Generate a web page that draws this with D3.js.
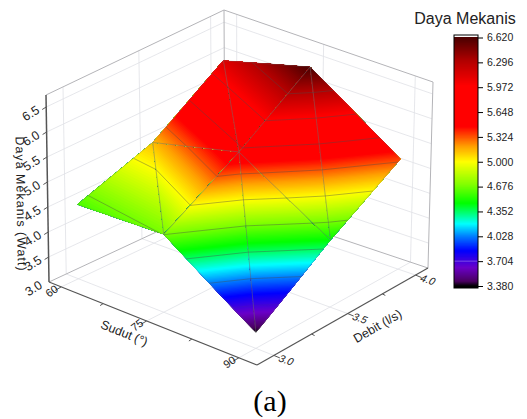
<!DOCTYPE html>
<html lang="en">
<head>
<meta charset="UTF-8">
<script src="https://d3js.org/d3.v7.min.js"></script>
<style>
  html, body { margin: 0; padding: 0; background: #fff; }
  svg { display: block; }
  text { font-family: "Liberation Sans", Arial, sans-serif; fill: #222; }
</style>
</head>
<body>
<svg width="527" height="419"></svg>
<script>

// data
var sudut = [60, 75, 90];
var debit = [3.0, 3.5, 4.0];
// daya[i][j] = sudut i, debit j
var daya = [
  [4.60, 5.14, 6.13],
  [4.68, 5.60, 6.62],
  [3.38, 4.46, 5.36]
];
var zTicks = [3.0, 3.5, 4.0, 4.5, 5.0, 5.5, 6.0, 6.5];
var sudutTicks = [60, 75, 90];
var sudutMinor = [67.5, 82.5];
var debitTicks = [3.0, 3.5, 4.0];
var debitMinor = [3.25, 3.75];
var levels = [3.704, 4.028, 4.352, 4.676, 5.000, 5.324, 5.648, 5.972, 6.296];
var barTicks = [3.380, 3.704, 4.028, 4.352, 4.676, 5.000, 5.324, 5.648, 5.972, 6.296, 6.620];
var colorValues = [3.38, 3.44, 3.62, 3.84, 4.03, 4.19, 4.32, 4.46, 4.70, 5.00, 5.20, 5.46, 5.99, 6.32, 6.62];
var colorNames = ["#000000", "#4a0060", "#6a00c8", "#0000ff", "#0080ff", "#00ffff", "#00ff80", "#00ff00", "#80ff00", "#ffff00", "#ffa000", "#ff0000", "#ff0000", "#b00000", "#4a0000"];

var svg = d3.select("svg");

// box corners on screen, u = sudut side, v = debit side
function homography(p0, p1, p2, p3) {
  var dx1 = p1[0] - p2[0], dx2 = p3[0] - p2[0], sx = p0[0] - p1[0] + p2[0] - p3[0];
  var dy1 = p1[1] - p2[1], dy2 = p3[1] - p2[1], sy = p0[1] - p1[1] + p2[1] - p3[1];
  var den = dx1 * dy2 - dx2 * dy1;
  var g = (sx * dy2 - dx2 * sy) / den, h = (dx1 * sy - sx * dy1) / den;
  var a = p1[0] - p0[0] + g * p1[0], b = p3[0] - p0[0] + h * p3[0];
  var d = p1[1] - p0[1] + g * p1[1], e = p3[1] - p0[1] + h * p3[1];
  return function(u, v) {
    var w = g * u + h * v + 1;
    return [(a * u + b * v + p0[0]) / w, (d * u + e * v + p0[1]) / w];
  };
}
var floorMap = homography([49, 282], [257, 365], [428, 268], [225, 200]);
var topMap = homography([46, 95], [258, 178], [433, 82], [224, 10]);

var uScale = d3.scaleLinear().domain([60, 90]).range([0.064, 0.92]);
var vScale = d3.scaleLinear().domain([3, 4]).range([0.09, 0.92]);
var zAxis = d3.scaleLinear().domain([3, 6.74]).range([0, 1]);
var zSurf = d3.scaleLinear().domain([3.05, 6.95]).range([0, 1]);

function projectRaw(u, v, w) {
  var a = floorMap(u, v), b = topMap(u, v);
  return [a[0] + (b[0] - a[0]) * w, a[1] + (b[1] - a[1]) * w];
}
function surfPoint(s, d, z) { return projectRaw(uScale(s), vScale(d), zSurf(z)); }

var color = d3.scaleLinear().domain(colorValues).range(colorNames).clamp(true);
var line = d3.line();

// walls and floor
var grid = svg.append("g").attr("fill", "none");
function gridLine(a, b, col, w) {
  grid.append("path").attr("d", line([a, b])).attr("stroke", col).attr("stroke-width", w);
}
var gridCol = "#e0e1e6";
zTicks.slice(1).forEach(function(z) {
  var w = zAxis(z);
  gridLine(projectRaw(0, 0, w), projectRaw(0, 1, w), gridCol, 0.8);
  gridLine(projectRaw(0, 1, w), projectRaw(1, 1, w), gridCol, 0.8);
});
debitTicks.forEach(function(d) {
  var v = vScale(d);
  gridLine(projectRaw(0, v, 0), projectRaw(0, v, 1), gridCol, 0.8);
  gridLine(projectRaw(0, v, 0), projectRaw(1, v, 0), gridCol, 0.8);
});
sudutTicks.forEach(function(s) {
  var u = uScale(s);
  gridLine(projectRaw(u, 1, 0), projectRaw(u, 1, 1), gridCol, 0.8);
  gridLine(projectRaw(u, 0, 0), projectRaw(u, 1, 0), gridCol, 0.8);
});
// back frame
var frameCol = "#b4b4b8";
gridLine(projectRaw(0, 0, 1), projectRaw(0, 1, 1), frameCol, 1);
gridLine(projectRaw(0, 1, 1), projectRaw(1, 1, 1), frameCol, 1);
gridLine(projectRaw(1, 1, 1), projectRaw(1, 1, 0), frameCol, 1);
gridLine(projectRaw(0, 1, 1), projectRaw(0, 1, 0), frameCol, 1);
gridLine(projectRaw(0, 0, 0), projectRaw(0, 1, 0), frameCol, 1);
gridLine(projectRaw(0, 1, 0), projectRaw(1, 1, 0), frameCol, 1);

// triangles of the surface, every cell is split along the same diagonal
var triangles = [];
function node(i, j) { return { s: sudut[i], d: debit[j], z: daya[i][j] }; }
for (var i = 0; i < sudut.length - 1; i++) {
  for (var j = 0; j < debit.length - 1; j++) {
    var p00 = node(i, j), p10 = node(i + 1, j), p01 = node(i, j + 1), p11 = node(i + 1, j + 1);
    triangles.push([p00, p10, p01], [p10, p11, p01]);
  }
}

function xy(p) { return surfPoint(p.s, p.d, p.z); }
function cross(a, b, l) {
  var k = (l - a.z) / (b.z - a.z);
  return { s: a.s + (b.s - a.s) * k, d: a.d + (b.d - a.d) * k, z: l };
}
// keep the part of a polygon above a z level
function clipAbove(poly, l) {
  var out = [];
  poly.forEach(function(a, k) {
    var b = poly[(k + 1) % poly.length];
    var inA = a.z >= l, inB = b.z >= l;
    if (inA) out.push(a);
    if (inA != inB) out.push(cross(a, b, l));
  });
  return out;
}

// paint from low z up, each step over the last, so no seams show between colours
var bandStep = 0.015;
var surface = svg.append("g");
triangles.forEach(function(t) {
  d3.range(3.38, 6.62, bandStep).forEach(function(lo) {
    var poly = clipAbove(t, lo);
    if (poly.length < 3) return;
    surface.append("path").attr("d", line(poly.map(xy)) + "Z")
      .attr("fill", color(lo + bandStep / 2));
  });
});

// mesh edges
var mesh = svg.append("g").attr("fill", "none").attr("stroke", "#707070").attr("stroke-opacity", 0.3).attr("stroke-width", 0.9);
triangles.forEach(function(t) {
  mesh.append("path").attr("d", line(t.map(xy)) + "Z");
});

// contour lines through the triangles
var contour = svg.append("g").attr("fill", "none").attr("stroke", "#4a4a4a").attr("stroke-width", 0.9);
levels.forEach(function(l) {
  triangles.forEach(function(t) {
    var pts = [];
    [[0, 1], [1, 2], [2, 0]].forEach(function(e) {
      var a = t[e[0]], b = t[e[1]];
      if ((a.z - l) * (b.z - l) < 0) pts.push(xy(cross(a, b, l)));
    });
    if (pts.length == 2) {
      contour.append("path").attr("d", line(pts)).attr("stroke-opacity", l < 3.8 ? 0.1 : 0.45);
    }
  });
});

// front axes
var axes = svg.append("g").attr("fill", "none");
function axisLine(a, b, w) {
  axes.append("path").attr("d", line([a, b])).attr("stroke", "#555").attr("stroke-width", w || 1.2);
}
axisLine(projectRaw(0, 0, 0), projectRaw(0, 0, 1), 1.5);
axisLine(projectRaw(0, 0, 0), projectRaw(1, 0, 0));
axisLine(projectRaw(1, 0, 0), projectRaw(1, 1, 0));

function label(p, txt, rot, size, skew, spacing) {
  svg.append("text")
    .attr("transform", "translate(" + p[0] + "," + p[1] + ") rotate(" + rot + ")" + (skew ? " skewX(" + skew + ")" : ""))
    .attr("text-anchor", "middle").attr("dominant-baseline", "middle")
    .attr("letter-spacing", spacing || 0)
    .attr("font-size", size).text(txt);
}

// z ticks
zTicks.forEach(function(z) {
  var w = zAxis(z), p = projectRaw(0, 0, w);
  if (z > 3) axisLine(p, [p[0] - 4, p[1] + 2.5], 1);
  label([p[0] - 15, p[1] + 7], d3.format(".1f")(z), -32, 12.5);
});
// sudut ticks
sudutTicks.forEach(function(s) {
  var p = projectRaw(uScale(s), 0, 0);
  axisLine(p, [p[0] - 6, p[1] + 3.5], 1);
  label([p[0] - 9, p[1] + 5], s, -36, 11);
});
sudutMinor.forEach(function(s) {
  var p = projectRaw(uScale(s), 0, 0);
  axisLine(p, [p[0] - 3, p[1] + 2], 1);
});
// debit ticks
debitTicks.forEach(function(d) {
  var p = projectRaw(1, vScale(d), 0);
  axisLine(p, [p[0] + 6, p[1] + 2.5], 1);
  label([p[0] + 12, p[1] + 5.5], d3.format(".1f")(d), 18, 10.5, -14);
});
debitMinor.forEach(function(d) {
  var p = projectRaw(1, vScale(d), 0);
  axisLine(p, [p[0] + 3, p[1] + 1.5], 1);
});

label([20, 204], "Daya Mekanis (Watt)", 89, 12.5, 0, 1);
label([124, 334], "Sudut (°)", 22, 12.5);
label([378, 327], "Debit (l/s)", -30, 12.5);
svg.append("text").attr("x", 270).attr("y", 411)
  .attr("text-anchor", "middle")
  .style("font-family", '"Liberation Serif", "Times New Roman", serif')
  .style("fill", "#000").attr("font-size", 30).text("(a)");

// colour bar, painted from the bottom up for the same reason as the surface
var barX = 454, barW = 24;
var barY = d3.scaleLinear().domain([3.38, 6.62]).range([286, 37.5]);
var bar = svg.append("g");
bar.append("rect").attr("x", barX).attr("y", 35).attr("width", barW).attr("height", 3).attr("fill", "#fff");
bar.append("rect").attr("x", barX).attr("y", 286).attr("width", barW).attr("height", 2).attr("fill", "#000");
d3.range(3.38, 6.62, 0.01).forEach(function(z) {
  bar.append("rect").attr("x", barX).attr("y", barY(6.62)).attr("width", barW)
    .attr("height", barY(z) - barY(6.62)).attr("fill", color(z + 0.005));
});
bar.append("path").attr("d", line([[barX, barY(3.704)], [barX + barW, barY(3.704)]]))
  .attr("stroke", "#ffffff").attr("stroke-opacity", 0.3).attr("fill", "none");
bar.append("rect").attr("x", barX).attr("y", 35).attr("width", barW).attr("height", 253)
  .attr("fill", "none").attr("stroke", "#000").attr("stroke-width", 1);

var barAxis = d3.axisRight(barY).tickValues(barTicks).tickFormat(d3.format(".3f")).tickSize(5).tickPadding(4);
var barG = svg.append("g").attr("transform", "translate(" + (barX + barW) + ",0)").call(barAxis);
barG.select(".domain").remove();
barG.selectAll("text").style("font-family", '"Liberation Sans", Arial, sans-serif').attr("font-size", 10.5).style("fill", "#222");

svg.append("text").attr("x", 465).attr("y", 24).attr("text-anchor", "middle")
  .attr("font-size", 16).text("Daya Mekanis");

</script>
</body>
</html>
